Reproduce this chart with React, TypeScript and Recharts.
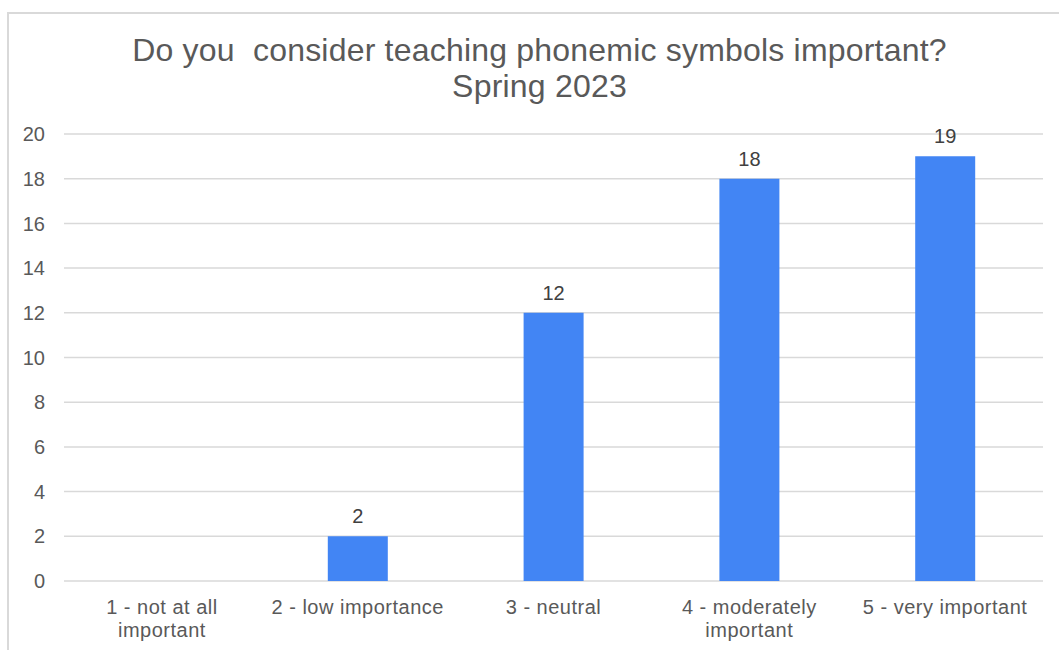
import React from 'react';
import { BarChart, Bar, XAxis, YAxis, CartesianGrid, LabelList } from 'recharts';

const categories = [
  '1 - not at all\nimportant',
  '2 - low importance',
  '3 - neutral',
  '4 - moderately\nimportant',
  '5 - very important',
];
const responses = [0, 2, 12, 18, 19];
const yTicks = [0, 2, 4, 6, 8, 10, 12, 14, 16, 18, 20];

const FONT = '"Liberation Sans", Arial, sans-serif';
const TEXT = '#595959';

const data = categories.map((name, i) => ({ name, value: responses[i] }));

const CategoryTick = (props: any) => {
  const { x, y, payload } = props;
  const lines = String(payload.value).split('\n');
  return (
    <text
      x={x}
      y={y}
      textAnchor="middle"
      fill={TEXT}
      fontSize={20}
      fontFamily={FONT}
      letterSpacing={0.5}
    >
      {lines.map((line, i) => (
        <tspan key={i} x={x} dy={i === 0 ? 33 : 23}>
          {line}
        </tspan>
      ))}
    </text>
  );
};

const App = () => {
  return (
    <div style={{ position: 'absolute', left: 0, top: 0, width: 1059, height: 650, background: '#fff' }}>
      <div
        style={{
          position: 'absolute',
          left: 7,
          top: 12,
          width: 1052,
          height: 638,
          borderTop: '2px solid #d9d9d9',
          borderLeft: '2px solid #d9d9d9',
        }}
      />
      <div
        style={{
          position: 'absolute',
          left: 0,
          top: 32,
          width: 1079,
          textAlign: 'center',
          fontFamily: FONT,
          fontSize: 32,
          lineHeight: '36px',
          letterSpacing: 0.2,
          color: TEXT,
          whiteSpace: 'pre',
        }}
      >
        {'Do you  consider teaching phonemic symbols important?\nSpring 2023'}
      </div>
      <div style={{ position: 'absolute', left: 0, top: 0 }}>
        <BarChart
          width={1059}
          height={650}
          data={data}
          margin={{ top: 134, right: 16, left: 8, bottom: 9 }}
        >
          <CartesianGrid vertical={false} stroke="#d9d9d9" strokeWidth={1.5} />
          <XAxis
            dataKey="name"
            axisLine={false}
            tickLine={false}
            tickSize={0}
            tickMargin={0}
            height={60}
            interval={0}
            tick={<CategoryTick />}
          />
          <YAxis
            domain={[0, 20]}
            ticks={yTicks}
            axisLine={false}
            tickLine={false}
            tickSize={0}
            tickMargin={19}
            width={56}
            tick={{ fill: TEXT, fontSize: 20, fontFamily: FONT }}
          />
          <Bar dataKey="value" fill="#4285f4" barSize={60} isAnimationActive={false}>
            <LabelList
              dataKey="value"
              position="top"
              offset={13}
              fill="#404040"
              fontSize={20}
              fontFamily={FONT}
            />
          </Bar>
        </BarChart>
      </div>
    </div>
  );
};

export default App;
